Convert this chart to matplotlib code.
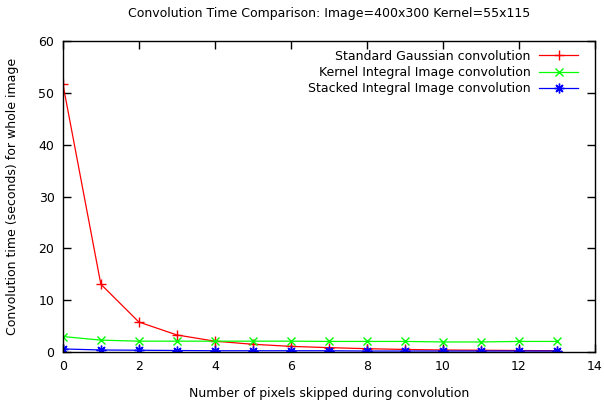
import matplotlib
matplotlib.use("Agg")
import matplotlib.pyplot as plt

skips = list(range(14))
standard = [51.8, 13.1, 5.8, 3.3, 2.1, 1.5, 1.1, 0.85, 0.65, 0.5, 0.4, 0.35, 0.3, 0.25]
kernel = [3.0, 2.3, 2.1, 2.1, 2.1, 2.1, 2.1, 2.05, 2.05, 2.05, 1.95, 1.95, 2.05, 2.05]
stacked = [0.6, 0.4, 0.35, 0.3, 0.25, 0.25, 0.25, 0.25, 0.2, 0.2, 0.2, 0.2, 0.2, 0.2]

labels = ["Standard Gaussian convolution",
          "Kernel Integral Image convolution",
          "Stacked Integral Image convolution"]
xticks = [0, 2, 4, 6, 8, 10, 12, 14]
yticks = [0, 10, 20, 30, 40, 50, 60]

plt.rcParams['font.family'] = ['DejaVu Sans']
fig = plt.figure(figsize=(6.04, 4.07), dpi=100)
ax = fig.add_axes([0.104, 0.135, 0.881, 0.764])

ax.plot(skips, standard, color='#ff0000', lw=0.9, marker='+', ms=7, mew=1, label=labels[0])
ax.plot(skips, kernel, color='#00ff00', lw=0.9, marker='x', ms=6, mew=1, label=labels[1])
ax.plot(skips, stacked, color='#0000ff', lw=0.9, marker=(8, 2, 0), ms=7, mew=1, label=labels[2])

ax.set_xlim(0, 14)
ax.set_ylim(0, 60)
ax.set_xticks(xticks)
ax.set_yticks(yticks)
ax.tick_params(direction='in', top=True, right=True, length=6, width=1, labelsize=9, pad=6)
for s in ax.spines.values():
    s.set_linewidth(1)

ax.set_title("Convolution Time Comparison: Image=400x300 Kernel=55x115", fontsize=9, pad=17)
ax.set_xlabel("Number of pixels skipped during convolution", fontsize=9, labelpad=10)
ax.set_ylabel("Convolution time (seconds) for whole image", fontsize=9, labelpad=14)

ax.legend(loc='upper right', frameon=False, markerfirst=False, fontsize=9,
          handlelength=3.1, labelspacing=0.25, handletextpad=0.7,
          borderaxespad=0.3, bbox_to_anchor=(1.0 - 8 / 532, 1.0))

fig.savefig("out.png", dpi=100)
